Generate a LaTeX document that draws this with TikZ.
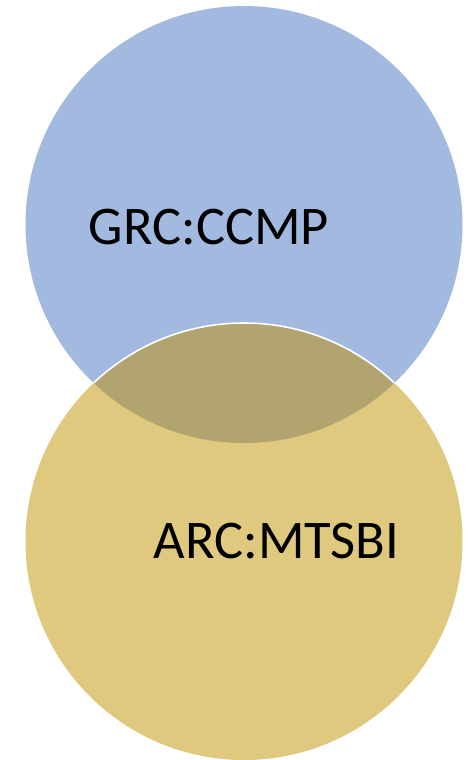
\documentclass[tikz,border=0pt]{standalone}
\usepackage{fontspec}
\setmainfont{Carlito}
\definecolor{blueC}{RGB}{162,185,224}
\definecolor{yellowC}{RGB}{223,201,127}
\definecolor{overlapC}{RGB}{178,164,111}
\begin{document}
\begin{tikzpicture}[x=1pt,y=-1pt,
  lbl/.style={inner sep=0pt,anchor=base,font=\fontsize{54.5}{58}\selectfont,text=black}]
\useasboundingbox (0,0) rectangle (467,760);
\coordinate (ct) at (244,224.5);
\coordinate (cb) at (244,541.5);
\fill[blueC] (ct) circle[radius=218.5];
\fill[yellowC] (cb) circle[radius=218.5];
\begin{scope}
  \clip (ct) circle[radius=218.5];
  \fill[overlapC] (cb) circle[radius=218.5];
  \draw[white,line width=1.6pt] (cb) circle[radius=218.5];
\end{scope}
\node[lbl] (grc) at (209,244) {GRC:CCMP};
\node[lbl] (arc) at (276.5,558) {ARC:MTSBI};
\end{tikzpicture}
\end{document}
